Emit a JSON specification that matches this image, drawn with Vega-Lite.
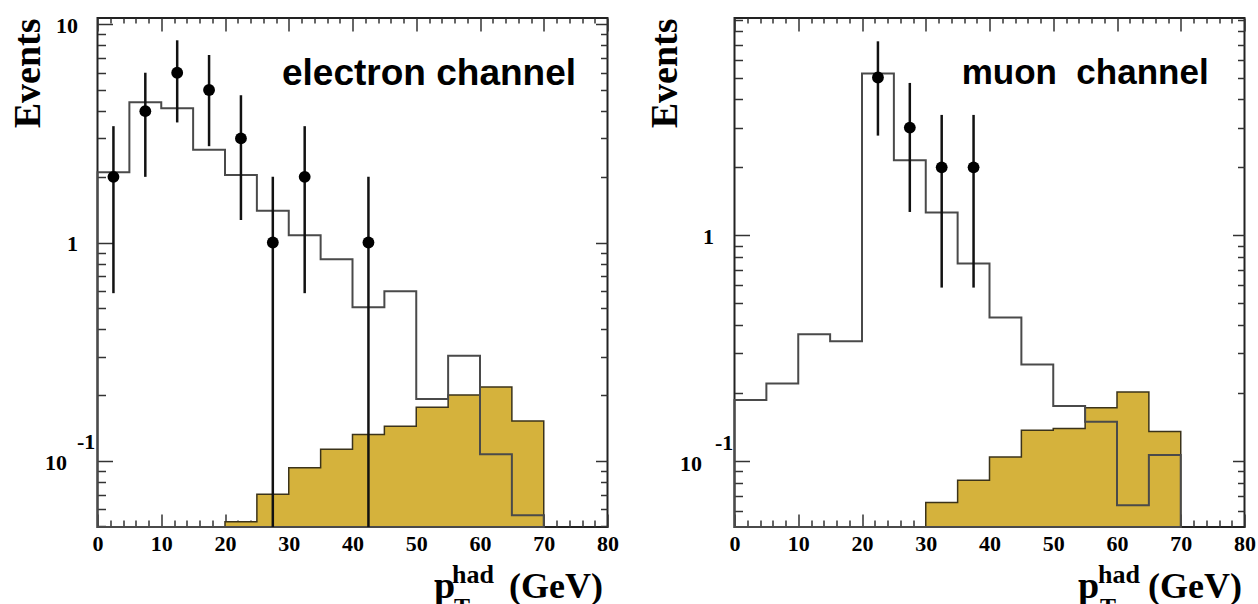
{
  "$schema": "https://vega.github.io/schema/vega-lite/v6.json",
  "background": "white",
  "padding": {"left": 7.5, "top": 8, "right": 5, "bottom": 0},
  "spacing": 127,
  "bounds": "flush",
  "config": {
    "view": {"stroke": "#222", "strokeWidth": 2},
    "axis": {"grid": false, "domain": false, "labelFont": "Liberation Serif", "labelFontWeight": "bold", "labelFontSize": 22, "labelColor": "#000", "titleFont": "Liberation Serif", "titleFontWeight": "bold", "titleColor": "#000", "tickColor": "#333", "tickWidth": 1.5, "labelOverlap": false, "labelFlush": false, "labelBound": false}
  },
  "datasets": {
    "yellowL": [
      {"lo": 20, "hi": 25, "v": 0.0525}, {"lo": 25, "hi": 30, "v": 0.0703}, {"lo": 30, "hi": 35, "v": 0.0929},
      {"lo": 35, "hi": 40, "v": 0.113}, {"lo": 40, "hi": 45, "v": 0.132}, {"lo": 45, "hi": 50, "v": 0.144},
      {"lo": 50, "hi": 55, "v": 0.176}, {"lo": 55, "hi": 60, "v": 0.2}, {"lo": 60, "hi": 65, "v": 0.218},
      {"lo": 65, "hi": 70, "v": 0.152}
    ],
    "whiteL": [
      {"lo": 0, "hi": 5, "v": 2.1}, {"lo": 5, "hi": 10, "v": 4.4}, {"lo": 10, "hi": 15, "v": 4.13},
      {"lo": 15, "hi": 20, "v": 2.66}, {"lo": 20, "hi": 25, "v": 2.04}, {"lo": 25, "hi": 30, "v": 1.4},
      {"lo": 30, "hi": 35, "v": 1.08}, {"lo": 35, "hi": 40, "v": 0.838}, {"lo": 40, "hi": 45, "v": 0.505},
      {"lo": 45, "hi": 50, "v": 0.598}, {"lo": 50, "hi": 55, "v": 0.192}, {"lo": 55, "hi": 60, "v": 0.303},
      {"lo": 60, "hi": 65, "v": 0.107}, {"lo": 65, "hi": 70, "v": 0.0563}
    ],
    "dataL": [
      {"x": 2.5, "n": 2, "lo": 0.586, "hi": 3.414}, {"x": 7.5, "n": 4, "lo": 2, "hi": 6},
      {"x": 12.5, "n": 6, "lo": 3.551, "hi": 8.449}, {"x": 17.5, "n": 5, "lo": 2.764, "hi": 7.236},
      {"x": 22.5, "n": 3, "lo": 1.268, "hi": 4.732}, {"x": 27.5, "n": 1, "lo": 0.0497, "hi": 2},
      {"x": 32.5, "n": 2, "lo": 0.586, "hi": 3.414}, {"x": 42.5, "n": 1, "lo": 0.0497, "hi": 2}
    ],
    "yellowR": [
      {"lo": 30, "hi": 35, "v": 0.0653}, {"lo": 35, "hi": 40, "v": 0.082}, {"lo": 40, "hi": 45, "v": 0.104},
      {"lo": 45, "hi": 50, "v": 0.1366}, {"lo": 50, "hi": 55, "v": 0.139}, {"lo": 55, "hi": 60, "v": 0.172},
      {"lo": 60, "hi": 65, "v": 0.202}, {"lo": 65, "hi": 70, "v": 0.135}
    ],
    "whiteR": [
      {"lo": 0, "hi": 5, "v": 0.186}, {"lo": 5, "hi": 10, "v": 0.22}, {"lo": 10, "hi": 15, "v": 0.364},
      {"lo": 15, "hi": 20, "v": 0.339}, {"lo": 20, "hi": 25, "v": 5.21}, {"lo": 25, "hi": 30, "v": 2.15},
      {"lo": 30, "hi": 35, "v": 1.26}, {"lo": 35, "hi": 40, "v": 0.749}, {"lo": 40, "hi": 45, "v": 0.432},
      {"lo": 45, "hi": 50, "v": 0.267}, {"lo": 50, "hi": 55, "v": 0.175}, {"lo": 55, "hi": 60, "v": 0.149},
      {"lo": 60, "hi": 65, "v": 0.0636}, {"lo": 65, "hi": 70, "v": 0.106}
    ],
    "dataR": [
      {"x": 22.5, "n": 5, "lo": 2.764, "hi": 7.236}, {"x": 27.5, "n": 3, "lo": 1.268, "hi": 4.732},
      {"x": 32.5, "n": 2, "lo": 0.586, "hi": 3.414}, {"x": 37.5, "n": 2, "lo": 0.586, "hi": 3.414}
    ]
  },
  "hconcat": [
    {
      "width": 510, "height": 509,
      "resolve": {"axis": {"x": "independent", "y": "independent"}},
      "layer": [
        {
          "data": {"name": "yellowL"},
          "transform": [{"fold": ["lo", "hi"], "as": ["edge", "px"]}],
          "mark": {"type": "area", "fill": "#d5b23c", "stroke": "#3b331a", "strokeWidth": 1.5},
          "encoding": {
            "x": {"field": "px", "type": "quantitative", "scale": {"domain": [0, 80], "nice": false, "zero": false},
              "axis": {"orient": "bottom", "values": [0,2,4,6,8,10,12,14,16,18,20,22,24,26,28,30,32,34,36,38,40,42,44,46,48,50,52,54,56,58,60,62,64,66,68,70,72,74,76,78,80],
                "labelExpr": "datum.value % 10 === 0 ? datum.label : ''",
                "tickSize": {"condition": {"test": "datum.value % 10 === 0", "value": -13}, "value": -7},
                "labelPadding": 19, "labelBaseline": "top", "labelAlign": "center",
                "title": "(GeV)", "titleFontSize": 36, "titleX": 411, "titleY": 70, "titleAlign": "left", "titleBaseline": "alphabetic", "titleAngle": 0}},
            "y": {"field": "v", "type": "quantitative", "scale": {"type": "log", "domain": [0.0497, 10.69], "nice": false},
              "axis": {"orient": "left", "values": [0.05,0.06,0.07,0.08,0.09,0.1,0.2,0.3,0.4,0.5,0.6,0.7,0.8,0.9,1,2,3,4,5,6,7,8,9,10],
                "labelExpr": "datum.value === 10 ? '10' : datum.value === 1 ? '1' : ''",
                "tickSize": {"condition": {"test": "datum.value === 0.1 || datum.value === 1 || datum.value === 10", "value": -15}, "value": -8},
                "labelPadding": 35,
                "labelBaseline": "middle", "labelAlign": "right", "labelOffset": 1,
                "title": "Events", "titleFontSize": 38, "titleAngle": -90, "titleX": -58, "titleY": 0, "titleAlign": "right", "titleBaseline": "alphabetic"}},
            "y2": {"datum": 0.0497},
            "order": [{"field": "px", "type": "quantitative"}, {"field": "edge", "type": "nominal"}]
          }
        },
        {
          "data": {"name": "whiteL"},
          "transform": [{"fold": ["lo", "hi"], "as": ["edge", "px"]}],
          "mark": {"type": "area", "fill": "transparent", "stroke": "#4a4a4a", "strokeWidth": 2},
          "encoding": {
            "x": {"field": "px", "type": "quantitative", "scale": {"domain": [0, 80], "nice": false, "zero": false},
              "axis": {"orient": "top", "values": [0,2,4,6,8,10,12,14,16,18,20,22,24,26,28,30,32,34,36,38,40,42,44,46,48,50,52,54,56,58,60,62,64,66,68,70,72,74,76,78,80],
                "labels": false, "tickSize": {"condition": {"test": "datum.value % 10 === 0", "value": -13}, "value": -5}, "title": null}},
            "y": {"field": "v", "type": "quantitative", "scale": {"type": "log", "domain": [0.0497, 10.69], "nice": false},
              "axis": {"orient": "right", "values": [0.05,0.06,0.07,0.08,0.09,0.1,0.2,0.3,0.4,0.5,0.6,0.7,0.8,0.9,1,2,3,4,5,6,7,8,9,10],
                "labels": false, "tickSize": {"condition": {"test": "datum.value === 0.1 || datum.value === 1 || datum.value === 10", "value": -12}, "value": -7}, "title": null}},
            "y2": {"datum": 0.0497},
            "order": [{"field": "px", "type": "quantitative"}, {"field": "edge", "type": "nominal"}]
          }
        },
        {
          "data": {"name": "dataL"},
          "mark": {"type": "rule", "color": "#111", "strokeWidth": 2.5},
          "encoding": {
            "x": {"field": "x", "type": "quantitative", "scale": {"domain": [0, 80], "nice": false, "zero": false},
              "axis": {"orient": "bottom", "ticks": false, "labels": false, "title": "p", "titleFontSize": 38, "titleX": 336, "titleY": 70, "titleAlign": "left", "titleBaseline": "alphabetic", "titleAngle": 0}},
            "y": {"field": "lo", "type": "quantitative", "scale": {"type": "log", "domain": [0.0497, 10.69], "nice": false},
              "axis": {"orient": "left", "ticks": false, "labels": false, "title": "-1", "titleFontSize": 22, "titleAngle": 0, "titleX": -21, "titleY": 430, "titleAlign": "left", "titleBaseline": "alphabetic"}},
            "y2": {"field": "hi"}
          }
        },
        {
          "data": {"name": "dataL"},
          "mark": {"type": "circle", "color": "#000", "size": 140, "opacity": 1},
          "encoding": {
            "x": {"field": "x", "type": "quantitative", "scale": {"domain": [0, 80], "nice": false, "zero": false},
              "axis": {"orient": "bottom", "ticks": false, "labels": false, "title": "had", "titleFontSize": 26, "titleX": 354, "titleY": 55, "titleAlign": "left", "titleBaseline": "alphabetic", "titleAngle": 0}},
            "y": {"field": "n", "type": "quantitative", "scale": {"type": "log", "domain": [0.0497, 10.69], "nice": false},
              "axis": {"orient": "left", "ticks": false, "labels": false, "title": "10", "titleFontSize": 22, "titleAngle": 0, "titleX": -53, "titleY": 451, "titleAlign": "left", "titleBaseline": "alphabetic"}}
          }
        },
        {
          "data": {"values": [{"label": "electron channel"}]},
          "mark": {"type": "text", "font": "Liberation Sans", "fontWeight": "bold", "fontSize": 37, "align": "center", "baseline": "alphabetic", "color": "#000"},
          "encoding": {
            "text": {"field": "label"},
            "x": {"datum": 52, "type": "quantitative", "scale": {"domain": [0, 80], "nice": false, "zero": false},
              "axis": {"orient": "bottom", "ticks": false, "labels": false, "title": "T", "titleFontSize": 24, "titleX": 356, "titleY": 86, "titleAlign": "left", "titleBaseline": "alphabetic", "titleAngle": 0}},
            "y": {"datum": 5.27, "type": "quantitative", "scale": {"type": "log", "domain": [0.0497, 10.69], "nice": false}, "axis": null}
          }
        }
      ]
    },
    {
      "width": 510, "height": 509,
      "resolve": {"axis": {"x": "independent", "y": "independent"}},
      "layer": [
        {
          "data": {"name": "yellowR"},
          "transform": [{"fold": ["lo", "hi"], "as": ["edge", "px"]}],
          "mark": {"type": "area", "fill": "#d5b23c", "stroke": "#3b331a", "strokeWidth": 1.5},
          "encoding": {
            "x": {"field": "px", "type": "quantitative", "scale": {"domain": [0, 80], "nice": false, "zero": false},
              "axis": {"orient": "bottom", "values": [0,2,4,6,8,10,12,14,16,18,20,22,24,26,28,30,32,34,36,38,40,42,44,46,48,50,52,54,56,58,60,62,64,66,68,70,72,74,76,78,80],
                "labelExpr": "datum.value % 10 === 0 ? datum.label : ''",
                "tickSize": {"condition": {"test": "datum.value % 10 === 0", "value": -13}, "value": -7},
                "labelPadding": 19, "labelBaseline": "top", "labelAlign": "center",
                "title": "(GeV)", "titleFontSize": 36, "titleX": 413, "titleY": 70, "titleAlign": "left", "titleBaseline": "alphabetic", "titleAngle": 0}},
            "y": {"field": "v", "type": "quantitative", "scale": {"type": "log", "domain": [0.0509, 9.18], "nice": false},
              "axis": {"orient": "left", "values": [0.06,0.07,0.08,0.09,0.1,0.2,0.3,0.4,0.5,0.6,0.7,0.8,0.9,1,2,3,4,5,6,7,8,9],
                "labelExpr": "datum.value === 1 ? '1' : ''",
                "tickSize": {"condition": {"test": "datum.value === 0.1 || datum.value === 1", "value": -15}, "value": -8},
                "labelPadding": 36,
                "labelBaseline": "middle", "labelAlign": "right", "labelOffset": 1,
                "title": "Events", "titleFontSize": 38, "titleAngle": -90, "titleX": -58, "titleY": 0, "titleAlign": "right", "titleBaseline": "alphabetic"}},
            "y2": {"datum": 0.0509},
            "order": [{"field": "px", "type": "quantitative"}, {"field": "edge", "type": "nominal"}]
          }
        },
        {
          "data": {"name": "whiteR"},
          "transform": [{"fold": ["lo", "hi"], "as": ["edge", "px"]}],
          "mark": {"type": "area", "fill": "transparent", "stroke": "#4a4a4a", "strokeWidth": 2},
          "encoding": {
            "x": {"field": "px", "type": "quantitative", "scale": {"domain": [0, 80], "nice": false, "zero": false},
              "axis": {"orient": "top", "values": [0,2,4,6,8,10,12,14,16,18,20,22,24,26,28,30,32,34,36,38,40,42,44,46,48,50,52,54,56,58,60,62,64,66,68,70,72,74,76,78,80],
                "labels": false, "tickSize": {"condition": {"test": "datum.value % 10 === 0", "value": -13}, "value": -5}, "title": null}},
            "y": {"field": "v", "type": "quantitative", "scale": {"type": "log", "domain": [0.0509, 9.18], "nice": false},
              "axis": {"orient": "right", "values": [0.06,0.07,0.08,0.09,0.1,0.2,0.3,0.4,0.5,0.6,0.7,0.8,0.9,1,2,3,4,5,6,7,8,9],
                "labels": false, "tickSize": {"condition": {"test": "datum.value === 0.1 || datum.value === 1", "value": -12}, "value": -7}, "title": null}},
            "y2": {"datum": 0.0509},
            "order": [{"field": "px", "type": "quantitative"}, {"field": "edge", "type": "nominal"}]
          }
        },
        {
          "data": {"name": "dataR"},
          "mark": {"type": "rule", "color": "#111", "strokeWidth": 2.5},
          "encoding": {
            "x": {"field": "x", "type": "quantitative", "scale": {"domain": [0, 80], "nice": false, "zero": false},
              "axis": {"orient": "bottom", "ticks": false, "labels": false, "title": "p", "titleFontSize": 38, "titleX": 343, "titleY": 70, "titleAlign": "left", "titleBaseline": "alphabetic", "titleAngle": 0}},
            "y": {"field": "lo", "type": "quantitative", "scale": {"type": "log", "domain": [0.0509, 9.18], "nice": false},
              "axis": {"orient": "left", "ticks": false, "labels": false, "title": "-1", "titleFontSize": 22, "titleAngle": 0, "titleX": -20, "titleY": 431, "titleAlign": "left", "titleBaseline": "alphabetic"}},
            "y2": {"field": "hi"}
          }
        },
        {
          "data": {"name": "dataR"},
          "mark": {"type": "circle", "color": "#000", "size": 140, "opacity": 1},
          "encoding": {
            "x": {"field": "x", "type": "quantitative", "scale": {"domain": [0, 80], "nice": false, "zero": false},
              "axis": {"orient": "bottom", "ticks": false, "labels": false, "title": "had", "titleFontSize": 26, "titleX": 363, "titleY": 55, "titleAlign": "left", "titleBaseline": "alphabetic", "titleAngle": 0}},
            "y": {"field": "n", "type": "quantitative", "scale": {"type": "log", "domain": [0.0509, 9.18], "nice": false},
              "axis": {"orient": "left", "ticks": false, "labels": false, "title": "10", "titleFontSize": 22, "titleAngle": 0, "titleX": -55, "titleY": 452, "titleAlign": "left", "titleBaseline": "alphabetic"}}
          }
        },
        {
          "data": {"values": [{"label": "muon\u00a0 channel"}]},
          "mark": {"type": "text", "font": "Liberation Sans", "fontWeight": "bold", "fontSize": 35, "align": "center", "baseline": "alphabetic", "color": "#000"},
          "encoding": {
            "text": {"field": "label"},
            "x": {"datum": 55, "type": "quantitative", "scale": {"domain": [0, 80], "nice": false, "zero": false},
              "axis": {"orient": "bottom", "ticks": false, "labels": false, "title": "T", "titleFontSize": 24, "titleX": 365, "titleY": 86, "titleAlign": "left", "titleBaseline": "alphabetic", "titleAngle": 0}},
            "y": {"datum": 4.7, "type": "quantitative", "scale": {"type": "log", "domain": [0.0509, 9.18], "nice": false}, "axis": null}
          }
        }
      ]
    }
  ]
}
